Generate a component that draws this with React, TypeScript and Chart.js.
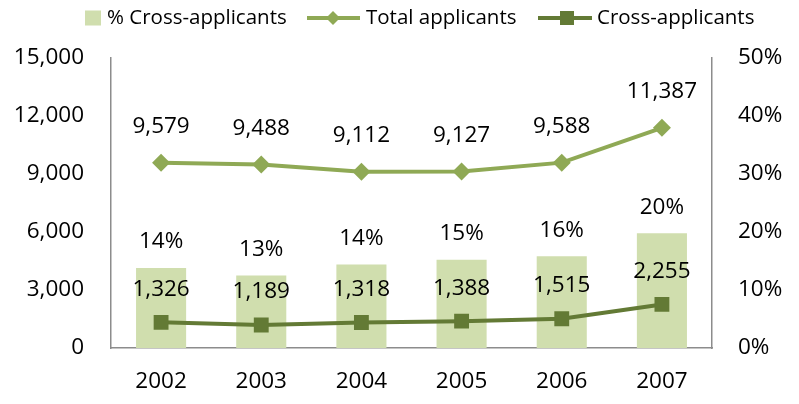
import React, { useEffect, useRef } from "react";
import { Chart, registerables } from "chart.js";

Chart.register(...registerables);

const categories = ["2002", "2003", "2004", "2005", "2006", "2007"];
const totalApplicants = [9579, 9488, 9112, 9127, 9588, 11387];
const crossApplicants = [1326, 1189, 1318, 1388, 1515, 2255];
const pctCross = [13.8, 12.5, 14.4, 15.2, 15.8, 19.8];
const leftTicks = [0, 3000, 6000, 9000, 12000, 15000];
const rightTicks = [0, 10, 20, 30, 40, 50];

const BAR_COLOR = "#d0deae";
const TOTAL_COLOR = "#8fa955";
const CROSS_COLOR = "#637a35";
const AXIS_COLOR = "#8c8c8c";
const FONT = "'Open Sans', sans-serif";
const TICK_SIZE = 22.5;

const fmt = (v: number) => v.toLocaleString("en-US");

const labelPlugin = {
  id: "dataLabels",
  afterDatasetsDraw(chart: any) {
    const ctx = chart.ctx;
    ctx.save();
    ctx.fillStyle = "#000";
    ctx.font = `${TICK_SIZE}px ${FONT}`;
    ctx.textAlign = "center";
    ctx.textBaseline = "middle";
    chart.data.datasets.forEach((ds: any, i: number) => {
      const meta = chart.getDatasetMeta(i);
      meta.data.forEach((el: any, j: number) => {
        const v = ds.data[j];
        let text = "";
        let off = 0;
        if (ds.type === "bar") {
          text = Math.round(v) + "%";
          off = 26;
        } else if (ds.label === "Total applicants") {
          text = fmt(v);
          off = 36;
        } else {
          text = fmt(v);
          off = 33;
        }
        ctx.fillText(text, el.x, el.y - off);
      });
    });
    ctx.restore();
  },
};

const legendPlugin = {
  id: "customLegend",
  afterDraw(chart: any) {
    const ctx = chart.ctx;
    ctx.save();
    ctx.font = `20.5px ${FONT}`;
    ctx.textBaseline = "middle";
    const y = 18;
    // bar item
    ctx.fillStyle = BAR_COLOR;
    ctx.fillRect(85, y - 7.5, 16, 15);
    ctx.fillStyle = "#000";
    ctx.fillText("% Cross-applicants", 107, y);
    // total item
    ctx.strokeStyle = TOTAL_COLOR;
    ctx.lineWidth = 4;
    ctx.beginPath();
    ctx.moveTo(307, y);
    ctx.lineTo(360, y);
    ctx.stroke();
    ctx.fillStyle = TOTAL_COLOR;
    ctx.beginPath();
    ctx.moveTo(333 - 7, y);
    ctx.lineTo(333, y - 7);
    ctx.lineTo(333 + 7, y);
    ctx.lineTo(333, y + 7);
    ctx.closePath();
    ctx.fill();
    ctx.fillStyle = "#000";
    ctx.fillText("Total applicants", 366, y);
    // cross item
    ctx.strokeStyle = CROSS_COLOR;
    ctx.beginPath();
    ctx.moveTo(538, y);
    ctx.lineTo(592, y);
    ctx.stroke();
    ctx.fillStyle = CROSS_COLOR;
    ctx.fillRect(567 - 7, y - 7, 14, 14);
    ctx.fillStyle = "#000";
    ctx.fillText("Cross-applicants", 597, y);
    ctx.restore();
  },
};

export default function App() {
  const ref = useRef<HTMLCanvasElement>(null);
  useEffect(() => {
    if (!ref.current) return;
    const chart = new Chart(ref.current, {
      type: "bar",
      data: {
        labels: categories,
        datasets: [
          {
            type: "bar",
            label: "% Cross-applicants",
            data: pctCross,
            backgroundColor: BAR_COLOR,
            yAxisID: "y1",
            barPercentage: 0.5,
            categoryPercentage: 1,
            order: 3,
          },
          {
            type: "line",
            label: "Total applicants",
            data: totalApplicants,
            borderColor: TOTAL_COLOR,
            backgroundColor: TOTAL_COLOR,
            borderWidth: 4,
            pointStyle: "rectRot",
            pointRadius: 9,
            pointBorderWidth: 0,
            tension: 0,
            yAxisID: "y",
            order: 1,
          } as any,
          {
            type: "line",
            label: "Cross-applicants",
            data: crossApplicants,
            borderColor: CROSS_COLOR,
            backgroundColor: CROSS_COLOR,
            borderWidth: 4,
            pointStyle: "rect",
            pointRadius: 10.5,
            pointBorderWidth: 0,
            tension: 0,
            yAxisID: "y",
            order: 2,
          } as any,
        ],
      },
      options: {
        animation: false,
        responsive: false,
        layout: { padding: { top: 58, left: 0, right: 0, bottom: 0 } },
        plugins: { legend: { display: false }, tooltip: { enabled: false } },
        scales: {
          x: {
            offset: true,
            grid: { display: false, drawTicks: false },
            border: { display: true, color: AXIS_COLOR, width: 1.5 },
            ticks: { color: "#000", font: { family: FONT, size: TICK_SIZE }, padding: 20 },
            afterFit: (s: any) => { s.height = 56; },
          },
          y: {
            position: "left",
            min: 0,
            max: 15000,
            afterBuildTicks: (s: any) => { s.ticks = leftTicks.map((v) => ({ value: v })); },
            grid: { display: false, drawTicks: false },
            border: { display: true, color: AXIS_COLOR, width: 1.5 },
            ticks: { color: "#000", font: { family: FONT, size: TICK_SIZE }, padding: 27, callback: (v: any) => fmt(Number(v)) },
            afterFit: (s: any) => { s.width = 111; },
          },
          y1: {
            position: "right",
            min: 0,
            max: 50,
            afterBuildTicks: (s: any) => { s.ticks = rightTicks.map((v) => ({ value: v })); },
            grid: { display: false, drawTicks: false },
            border: { display: true, color: AXIS_COLOR, width: 1.5 },
            ticks: { color: "#000", font: { family: FONT, size: TICK_SIZE }, padding: 26, callback: (v: any) => v + "%" },
            afterFit: (s: any) => { s.width = 87; },
          },
        },
      },
      plugins: [labelPlugin, legendPlugin],
    });
    return () => chart.destroy();
  }, []);
  return (
    <div style={{ position: "fixed", left: 0, top: 0, width: 799, height: 404, background: "#fff" }}>
      <canvas ref={ref} width={799} height={404} style={{ width: 799, height: 404 }} />
    </div>
  );
}
